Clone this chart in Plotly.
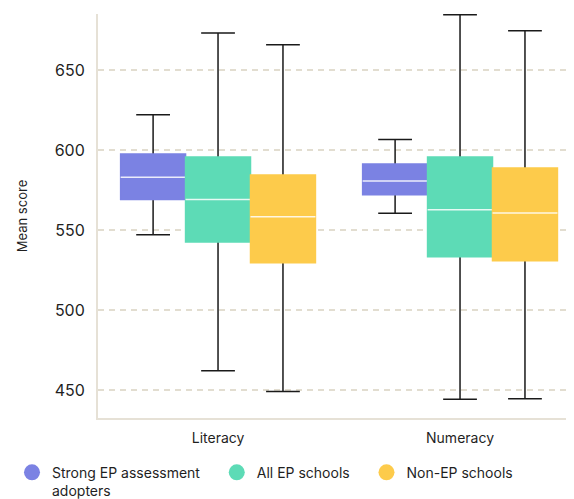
import plotly.graph_objects as go

categories = ["Literacy", "Numeracy"]
series_names = [
    "Strong EP assessment\u00a0\u00a0\u00a0<br>adopters",
    "All EP schools\u00a0\u00a0\u00a0",
    "Non-EP schools",
]
series_colors = ["#7B82E3", "#5DDBB6", "#FDCB4B"]

# values per series: [Literacy, Numeracy]
lower_fence = [[547, 560.5], [462, 444.2], [449, 444.6]]
q1_vals = [[569, 572], [542.5, 533.3], [529.6, 530.8]]
median_vals = [[583, 580.6], [569, 562.7], [558.3, 560.6]]
q3_vals = [[597.5, 591.3], [595.6, 595.6], [584.4, 588.8]]
upper_fence = [[622, 606.5], [673.1, 684.6], [665.8, 674.6]]

y_ticks = [450, 500, 550, 600, 650]

fig = go.Figure()

for i, name in enumerate(series_names):
    col = series_colors[i]
    grp = "g%d" % i
    # whiskers (box collapsed to median, hidden under the fill)
    fig.add_trace(go.Box(
        x=categories, q1=median_vals[i], median=median_vals[i], q3=median_vals[i],
        lowerfence=lower_fence[i], upperfence=upper_fence[i],
        offsetgroup=grp, line=dict(color="#1a1a1a", width=1.5),
        fillcolor="rgba(0,0,0,0)", whiskerwidth=0.52, showlegend=False,
        hoverinfo="skip", boxpoints=False,
    ))
    # filled box without outline
    fig.add_trace(go.Box(
        x=categories, q1=q1_vals[i], median=median_vals[i], q3=q3_vals[i],
        lowerfence=q1_vals[i], upperfence=q3_vals[i],
        offsetgroup=grp, line=dict(color=col, width=1.5),
        fillcolor=col, whiskerwidth=0, showlegend=False,
        hoverinfo="skip", boxpoints=False,
    ))
    # median line
    fig.add_trace(go.Box(
        x=categories, q1=median_vals[i], median=median_vals[i], q3=median_vals[i],
        lowerfence=median_vals[i], upperfence=median_vals[i],
        offsetgroup=grp, line=dict(color="rgba(255,255,255,0.85)", width=1.5),
        fillcolor="rgba(0,0,0,0)", whiskerwidth=0, showlegend=False,
        hoverinfo="skip", boxpoints=False,
    ))

for i, name in enumerate(series_names):
    fig.add_trace(go.Scatter(
        x=[None], y=[None], mode="markers", name=name,
        marker=dict(symbol="circle", size=17, color=series_colors[i]),
        showlegend=True, hoverinfo="skip",
    ))

fig.update_layout(
    width=574, height=505,
    margin=dict(l=90, r=0, t=6, b=95),
    paper_bgcolor="white", plot_bgcolor="white",
    boxmode="group", boxgap=0.195, boxgroupgap=0,
    font=dict(family="Inter, sans-serif", size=14, color="#1f1f1f"),
    showlegend=True,
    legend=dict(
        orientation="h", x=-0.1777, xanchor="left", y=-0.0958, yanchor="top",
        valign="top", font=dict(size=14, color="#1f1f1f"),
        itemsizing="trace", traceorder="normal", itemwidth=30,
    ),
    xaxis=dict(
        type="category", range=[-0.496, 1.504], automargin=False,
        showline=True, linecolor="#E6E1D6", linewidth=2,
        showgrid=False, zeroline=False, ticks="", ticklabelstandoff=6,
        tickfont=dict(size=14),
    ),
    yaxis=dict(
        range=[432.5, 685], tickvals=y_ticks, automargin=False,
        showline=True, linecolor="#E6E1D6", linewidth=2,
        showgrid=True, gridcolor="#E2DDD0", gridwidth=1.5, griddash="6px,5px",
        zeroline=False, ticks="", ticklabelstandoff=8,
        tickfont=dict(size=16),
        title=dict(text="Mean score", font=dict(size=13), standoff=24),
    ),
)

fig.write_html("out.html")
